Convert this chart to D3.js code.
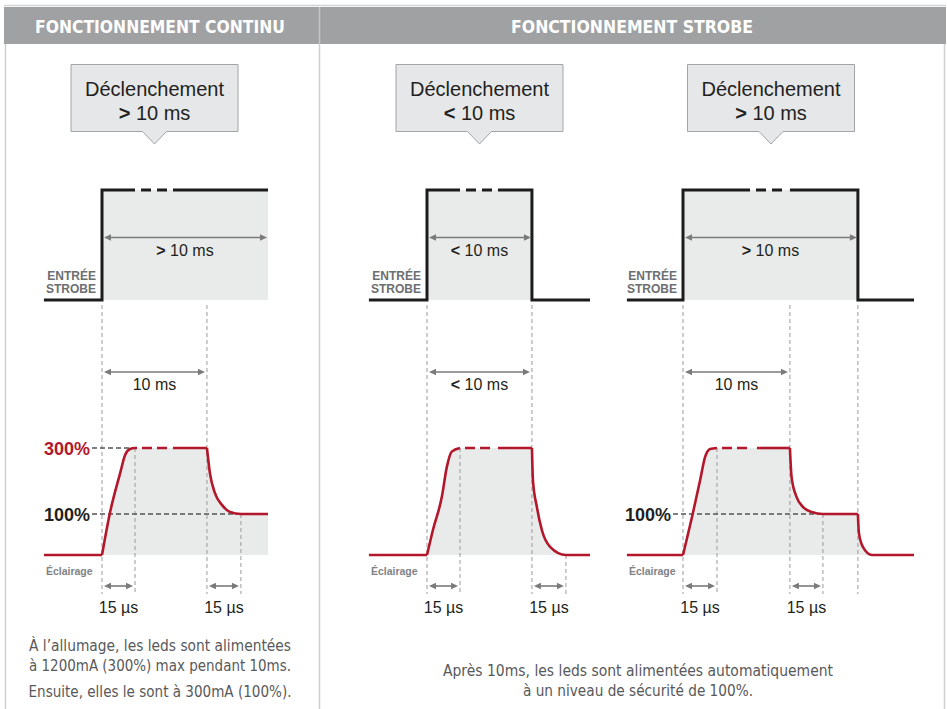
<!DOCTYPE html>
<html><head><meta charset="utf-8">
<script src="https://cdn.jsdelivr.net/npm/d3@7"></script>
<style>body{margin:0;background:#fff}</style>
</head><body>
<svg id="c" width="947" height="709"></svg>
<script>
// ---------------- DATA ----------------
const headers = ["FONCTIONNEMENT CONTINU", "FONCTIONNEMENT STROBE"];
const calloutTitle = "Déclenchement";
const calloutSigns = [">", "<", ">"];
const calloutValue = " 10 ms";
const strobeDurationSigns = [">", "<", ">"];
const timingSigns = ["", "<", ""];
const durationValue = "10 ms";
const riseFallLabel = "15 µs";
const strobeAxisLabel = ["ENTRÉE", "STROBE"];
const lightAxisLabel = "Éclairage";

// strobe input waveform per panel: [time unit, level 0/1]
const strobeWave = [
  [[-1.76,0],[0,0],[0,1],[5.03,1]],
  [[-1.76,0],[0,0],[0,1],[3.18,1],[3.18,0],[4.94,0]],
  [[-1.70,0],[0,0],[0,1],[5.30,1],[5.30,0],[7.00,0]]
];
// illumination waveform per panel: [time unit, percent]
const lightWave = [
  [[-1.76,0],[0,0],[0.24,103],[0.55,224],[0.70,279],[0.85,297],[1.00,300],[3.18,300],[3.27,224],[3.42,164],[3.64,127],[3.88,106],[4.21,100],[5.03,100]],
  [[-1.76,0],[0,0],[0.18,61],[0.45,152],[0.60,242],[0.75,289],[1.00,300],[3.18,300],[3.21,203],[3.33,121],[3.48,61],[3.73,20],[4.21,0],[4.94,0]],
  [[-1.70,0],[0,0],[0.30,103],[0.52,203],[0.67,273],[0.82,297],[1.03,300],[3.24,300],[3.29,212],[3.44,152],[3.64,121],[3.90,106],[4.24,100],[5.30,100],[5.33,54],[5.45,20],[5.73,0],[7.00,0]]
];
const strobeDash = [[1.00,2.15],[1.00,2.15],[2.03,3.24]];
const lightDash  = [[1.06,2.15],[1.00,2.15],[1.03,2.33]];
const riseEnd  = [1.00,1.00,1.03];
const tenMs    = [3.18,3.18,3.24];
const fallEnd  = [4.21,4.21,4.24];
const pulseEnd = [5.03,3.18,5.30];
const fallEndLevel = [100,0,100];
// reference level lines per panel
const levelLabels = [["300%","100%"],[],["100%"]];
const levelValues = [[300,100],[],[100]];
const levelEnds   = [[1.00,5.03],[],[5.30]];
const noteLeft = ["À l’allumage, les leds sont alimentées","à 1200mA (300%) max pendant 10ms.","Ensuite, elles le sont à 300mA (100%)."];
const noteRight = ["Après 10ms, les leds sont alimentées automatiquement","à un niveau de sécurité de 100%."];

// ---------------- LAYOUT ----------------
const svg = d3.select("#c");
const FONT = "'Liberation Sans', Arial, Helvetica, sans-serif";
const NARROW = "'Liberation Sans Narrow','DejaVu Sans Condensed','Roboto',sans-serif";
const origins = [102, 427, 683];
const unit = 33;
const calloutCx = [154.5, 479.5, 771];
const RED = "#b3172b", BLACK = "#1c1c1c", ARROW = "#7a7a7a", GUIDE = "#9a9a9a", FILL = "#e9eaea";

const ys = d3.scaleLinear().domain([0,1]).range([300,190]);
const yl = d3.scaleLinear().domain([0,100,300]).range([555,514,448]);

// frame
svg.append("line").attr("x1",4).attr("x2",946).attr("y1",5.5).attr("y2",5.5).attr("stroke","#d2d3d4").attr("stroke-width",1.5);
svg.append("rect").attr("x",4).attr("y",7).attr("width",942).attr("height",37).attr("fill","#a0a1a3");
svg.append("line").attr("x1",319.5).attr("x2",319.5).attr("y1",7).attr("y2",44).attr("stroke","#c4c5c6").attr("stroke-width",1.5);
[5.5, 319.5, 944.5].forEach(x=>{
  svg.append("line").attr("x1",x).attr("x2",x).attr("y1",44).attr("y2",709).attr("stroke","#cfd0d1").attr("stroke-width",1.5);
});
const headerCx = [160, 632], headerW = [250, 242];
headers.forEach((h,i)=>{
  svg.append("text").attr("x",headerCx[i]).attr("y",33).attr("text-anchor","middle")
    .attr("font-family",NARROW).attr("font-weight","bold").attr("font-size",18).attr("fill","#fff")
    .attr("textLength",headerW[i]).attr("lengthAdjust","spacingAndGlyphs").text(h);
});

function arrow(g, x1, x2, y){
  g.append("line").attr("x1",x1+5).attr("x2",x2-5).attr("y1",y).attr("y2",y).attr("stroke",ARROW).attr("stroke-width",1.6);
  g.append("path").attr("d",`M${x1},${y}L${x1+7},${y-3.2}L${x1+7},${y+3.2}Z`).attr("fill",ARROW);
  g.append("path").attr("d",`M${x2},${y}L${x2-7},${y-3.2}L${x2-7},${y+3.2}Z`).attr("fill",ARROW);
}
function labelWithSign(g, x, y, sign, rest, size){
  const t = g.append("text").attr("x",x).attr("y",y).attr("text-anchor","middle")
    .attr("font-family",FONT).attr("font-size",size).attr("fill","#231f20");
  if (sign) { t.append("tspan").attr("font-weight","bold").text(sign); t.append("tspan").text(" "+rest.trim()); }
  else t.text(rest);
}
function range(points, a, b){ return points.filter(p=>p[0]>=a && p[0]<=b); }
function split(points, d0, d1, level){
  const a = points.filter(p=>p[0]<=d0).concat([[d0,level]]);
  const c = [[d1,level]].concat(points.filter(p=>p[0]>=d1));
  return [a, [[d0,level],[d1,level]], c];
}

origins.forEach((ox,i)=>{
  const g = svg.append("g");
  const x = d3.scaleLinear().domain([0,1]).range([ox, ox+unit]);

  // callout
  const cx = calloutCx[i], l = cx-83.5, r = cx+83.5, t = 64.5, b = 131.5;
  g.append("path").attr("d",`M${l},${t}H${r}V${b}H${cx+12}L${cx},${144}L${cx-12},${b}H${l}Z`)
    .attr("fill","#e6e7e8").attr("stroke","#a3a4a6").attr("stroke-width",1);
  g.append("text").attr("x",cx).attr("y",96).attr("text-anchor","middle").attr("font-family",FONT)
    .attr("font-size",20).attr("fill","#231f20").text(calloutTitle);
  labelWithSign(g, cx, 120, calloutSigns[i], calloutValue, 20);

  const sw = strobeWave[i], lw = lightWave[i];
  const ll = d3.line().curve(d3.curveMonotoneX).x(d=>x(d[0])).y(d=>yl(d[1]));
  const last = lw[lw.length-1][0];
  // light waveform segments, broken at sharp corners
  const segRise = range(lw, 0, tenMs[i]);
  const segDecay = range(lw, tenMs[i], pulseEnd[i]);
  const segTail = range(lw, pulseEnd[i], last);
  const segBase = range(lw, -99, 0);

  // strobe fill
  g.append("path").attr("d", d3.area().x(d=>x(d[0])).y0(ys(0)).y1(d=>ys(d[1]))(sw.filter(d=>d[0]>=0)))
    .attr("fill",FILL);
  // light fill built from the same curve pieces
  let dFill = "M" + x(0) + "," + yl(0);
  [segRise, segDecay, segTail].forEach(s=>{ if (s.length>1) dFill += "L" + ll(s).slice(1); });
  dFill += "L" + x(last) + "," + yl(0) + "Z";
  g.append("path").attr("d", dFill).attr("fill",FILL);

  // guides
  const gd = g.append("g").attr("stroke",GUIDE).attr("stroke-width",1).attr("stroke-dasharray","4,3");
  [0, tenMs[i]].concat(i===2 ? [pulseEnd[i]] : []).forEach(tv=>{
    gd.append("line").attr("x1",x(tv)).attr("x2",x(tv)).attr("y1",305).attr("y2",594);
  });
  [[riseEnd[i],300],[fallEnd[i],fallEndLevel[i]]].forEach(([tv,lv])=>{
    gd.append("line").attr("x1",x(tv)).attr("x2",x(tv)).attr("y1",yl(lv)).attr("y2",594);
  });

  // level lines
  levelLabels[i].forEach((lab,k)=>{
    const yv = yl(levelValues[i][k]);
    g.append("line").attr("x1",ox-10).attr("x2",x(levelEnds[i][k])).attr("y1",yv).attr("y2",yv)
      .attr("stroke","#555").attr("stroke-width",1.5).attr("stroke-dasharray","5,3");
    g.append("text").attr("x",ox-12).attr("y",yv+6.5).attr("text-anchor","end").attr("font-family",FONT)
      .attr("font-weight","bold").attr("font-size",18)
      .attr("fill", levelValues[i][k]===300 ? RED : "#231f20").text(lab);
  });

  // strobe line
  const sl = d3.line().x(d=>x(d[0])).y(d=>ys(d[1]));
  split(sw, strobeDash[i][0], strobeDash[i][1], 1).forEach((seg,k)=>{
    g.append("path").attr("d",sl(seg)).attr("fill","none").attr("stroke",BLACK).attr("stroke-width",3)
      .attr("stroke-dasharray", k===1 ? "0,6,10,6,10,6" : null);
  });
  // light line
  const pieces = [segBase].concat(
    split(segRise, lightDash[i][0], lightDash[i][1], 300).map((s,k)=>({s, dashed:k===1})),
    [segDecay, segTail]);
  pieces.forEach(p=>{
    const s = Array.isArray(p) ? p : p.s, dashed = Array.isArray(p) ? false : p.dashed;
    if (s.length < 2) return;
    g.append("path").attr("d",ll(s)).attr("fill","none").attr("stroke",RED).attr("stroke-width",2.6)
      .attr("stroke-linecap","butt").attr("stroke-dasharray", dashed ? "0,5,10,5,10,5" : null);
  });

  // axis labels
  strobeAxisLabel.forEach((s,k)=>{
    g.append("text").attr("x",ox-6).attr("y",280+k*13).attr("text-anchor","end").attr("font-family",FONT)
      .attr("font-weight","bold").attr("font-size",12).attr("fill","#6d6e70").text(s);
  });
  g.append("text").attr("x",x(lw[0][0])+2).attr("y",575).attr("font-family",FONT)
    .attr("font-weight","bold").attr("font-size",10.5).attr("fill","#808285").text(lightAxisLabel);

  // dimension arrows
  arrow(g, x(0)+2, x(pulseEnd[i])-1, 237.5);
  labelWithSign(g, (x(0)+x(pulseEnd[i]))/2, 256, strobeDurationSigns[i], durationValue, 16);
  arrow(g, x(0)+2, x(tenMs[i])-2, 372);
  labelWithSign(g, (x(0)+x(tenMs[i]))/2, 390, timingSigns[i], durationValue, 16);
  arrow(g, x(0)+2, x(riseEnd[i])-2, 586);
  arrow(g, x(tenMs[i])+2, x(fallEnd[i])-2, 586);
  [[0,riseEnd[i]],[tenMs[i],fallEnd[i]]].forEach(([a,b])=>{
    g.append("text").attr("x",(x(a)+x(b))/2).attr("y",613).attr("text-anchor","middle")
      .attr("font-family",FONT).attr("font-size",16).attr("fill","#231f20").text(riseFallLabel);
  });
});

// notes
const noteLeftY = [651, 671, 697], noteRightY = [676, 696];
const noteLeftW = [262, 262, 263], noteRightW = [390, 230];
noteLeft.forEach((s,k)=>{
  svg.append("text").attr("x",160).attr("y",noteLeftY[k]).attr("text-anchor","middle")
    .attr("font-family",NARROW).attr("font-size",15.5).attr("fill","#58595b")
    .attr("textLength",noteLeftW[k]).attr("lengthAdjust","spacingAndGlyphs").text(s);
});
noteRight.forEach((s,k)=>{
  svg.append("text").attr("x",638).attr("y",noteRightY[k]).attr("text-anchor","middle")
    .attr("font-family",NARROW).attr("font-size",15.5).attr("fill","#58595b")
    .attr("textLength",noteRightW[k]).attr("lengthAdjust","spacingAndGlyphs").text(s);
});
</script>
</body></html>
